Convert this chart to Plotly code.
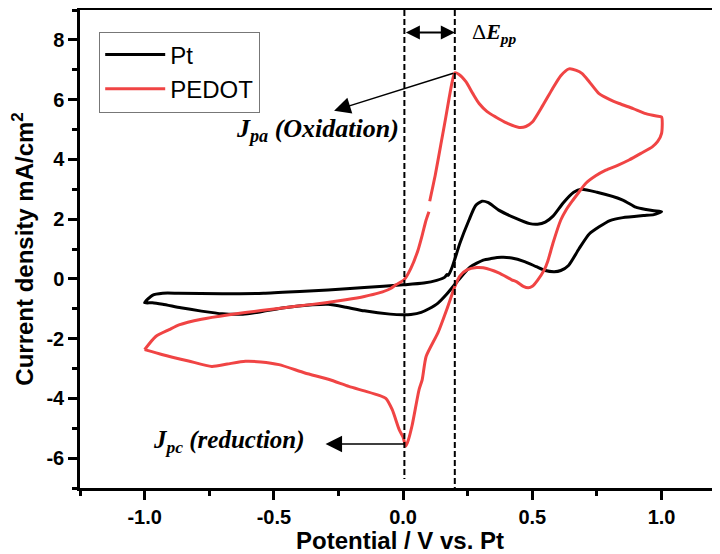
import plotly.graph_objects as go

# ---------------- data ----------------
pt_potential = [-1.0, -0.97, -0.93, -0.87, -0.70, -0.54, -0.40, -0.29, -0.15, 0.0, 0.08, 0.13, 0.16, 0.17,
                0.175, 0.19, 0.22, 0.255, 0.28, 0.305, 0.33, 0.37, 0.43, 0.49, 0.52, 0.55, 0.58, 0.62, 0.66,
                0.69, 0.75, 0.85, 0.90, 0.94, 0.97, 1.0,
                0.97, 0.93, 0.85, 0.80, 0.76, 0.72, 0.68, 0.64, 0.61, 0.585, 0.55, 0.515, 0.47, 0.42, 0.38,
                0.34, 0.31, 0.26, 0.215, 0.17, 0.135, 0.10, 0.07, 0.03, 0.0, -0.05, -0.15, -0.22, -0.29,
                -0.35, -0.46, -0.55, -0.62, -0.70, -0.78, -0.86, -0.93, -0.97, -1.0]
pt_current = [-0.80, -0.55, -0.48, -0.48, -0.50, -0.48, -0.42, -0.37, -0.29, -0.20, -0.14, -0.05, 0.05, 0.15,
              0.12, 0.40, 1.20, 1.97, 2.45, 2.60, 2.55, 2.30, 2.05, 1.85, 1.83, 1.90, 2.10, 2.55, 2.90,
              3.00, 2.90, 2.64, 2.40, 2.32, 2.28, 2.25,
              2.15, 2.12, 2.05, 1.95, 1.75, 1.50, 1.00, 0.45, 0.28, 0.24, 0.28, 0.41, 0.58, 0.70, 0.72,
              0.68, 0.63, 0.40, -0.03, -0.50, -0.81, -1.00, -1.12, -1.19, -1.20, -1.18, -1.07, -0.95, -0.85,
              -0.87, -0.97, -1.10, -1.18, -1.17, -1.08, -0.97, -0.85, -0.80, -0.80]

pedot_potential = [-1.0, -0.957, -0.905, -0.867, -0.78, -0.673, -0.55, -0.415, -0.30, -0.222, -0.15, -0.093,
                   -0.05, -0.028, 0.004, 0.03, 0.058, 0.075, 0.089, 0.10, None, 0.103, 0.125, 0.146, 0.165,
                   0.178, 0.19, 0.2, 0.215, 0.243, 0.27, 0.294, 0.325, 0.358, 0.40, 0.449, 0.475, 0.5, 0.54,
                   0.577, 0.61, 0.642, 0.67, 0.693, 0.72, 0.758, 0.80, 0.836, 0.89, 0.939, 0.98, 1.0,
                   1.0, 0.985, 0.964, 0.92, 0.874, 0.83, 0.784, 0.745, 0.707, 0.68, 0.654, 0.63, 0.61, 0.58,
                   0.56, 0.546, 0.52, 0.50, 0.484, 0.465, 0.44, 0.42, 0.37, 0.31, 0.285, 0.247, 0.22, 0.2,
                   0.17, 0.135, 0.089, 0.074, 0.062, 0.035, 0.02, 0.01, 0.0, -0.015, -0.042, -0.067, -0.093,
                   -0.15, -0.21, -0.286, -0.38, -0.48, -0.55, -0.61, -0.68, -0.74, -0.83, -0.93, -1.0]
pedot_current = [-2.37, -1.93, -1.70, -1.54, -1.35, -1.20, -1.06, -0.92, -0.80, -0.70, -0.59, -0.47,
                 -0.33, -0.20, -0.03, 0.35, 0.97, 1.50, 1.97, 2.25, None, 2.60, 3.50, 4.50, 5.40,
                 6.05, 6.60, 6.90, 6.85, 6.60, 6.20, 5.87, 5.60, 5.42, 5.22, 5.07, 5.10, 5.25, 5.80,
                 6.35, 6.80, 7.03, 6.98, 6.87, 6.60, 6.20, 6.00, 5.87, 5.70, 5.53, 5.45, 5.42,
                 4.87, 4.60, 4.42, 4.20, 3.98, 3.80, 3.64, 3.45, 3.20, 2.90, 2.60, 2.30, 1.97, 1.20,
                 0.60, 0.30, -0.05, -0.25, -0.30, -0.25, -0.10, -0.03, 0.20, 0.37, 0.38, 0.30, 0.10, -0.26,
                 -1.00, -1.80, -2.60, -3.37, -3.70, -4.90, -5.40, -5.60, -5.30, -5.05, -4.38, -4.00, -3.90,
                 -3.75, -3.60, -3.37, -3.15, -2.87, -2.78, -2.76, -2.85, -2.93, -2.75, -2.54, -2.37]

x_tickvals = [-1.0, -0.5, 0.0, 0.5, 1.0]
x_ticktext = ["-1.0", "-0.5", "0.0", "0.5", "1.0"]
y_tickvals = [-6, -4, -2, 0, 2, 4, 6, 8]
y_ticktext = ["-6", "-4", "-2", "0", "2", "4", "6", "8"]

# ---------------- figure ----------------
SANS = "Liberation Sans, Arial, sans-serif"
SERIF = "Liberation Serif, Times New Roman, serif"

fig = go.Figure()
fig.add_trace(go.Scatter(x=pt_potential, y=pt_current, mode="lines", name="Pt",
                         line=dict(color="black", width=3, shape="spline", smoothing=0.6)))
fig.add_trace(go.Scatter(x=pedot_potential, y=pedot_current, mode="lines", name="PEDOT",
                         line=dict(color="#F04444", width=3, shape="spline", smoothing=0.6),
                         connectgaps=False))

# dashed guide lines
fig.add_shape(type="line", xref="x", yref="y", x0=0.005, x1=0.005, y0=9, y1=-6.7,
              line=dict(color="black", width=2, dash="6px,3px"))
fig.add_shape(type="line", xref="x", yref="y", x0=0.2, x1=0.2, y0=9, y1=-7,
              line=dict(color="black", width=2, dash="6px,3px"))

# delta E arrow
fig.add_annotation(x=0.2, y=8.25, ax=0.005, ay=8.25, xref="x", yref="y", axref="x", ayref="y",
                   text="", showarrow=True, arrowhead=2, startarrowhead=2, arrowside="end+start",
                   arrowsize=1.4, startarrowsize=1.4, arrowwidth=2, arrowcolor="black")
fig.add_annotation(x=0.352, y=8.23, xref="x", yref="y", showarrow=False,
                   text="Δ<b><i>E<sub>pp</sub></i></b>",
                   font=dict(family=SERIF, size=22, color="black"))

# Jpa arrow and label
fig.add_annotation(x=-0.267, y=5.63, ax=0.2, ay=6.9, xref="x", yref="y", axref="x", ayref="y",
                   text="", showarrow=True, arrowhead=2, arrowsize=2.2, arrowwidth=1.5, arrowcolor="black")
fig.add_annotation(x=-0.33, y=4.99, xref="x", yref="y", showarrow=False,
                   text="<b><i>J<sub>pa</sub> (Oxidation)</i></b>",
                   font=dict(family=SERIF, size=26, color="black"))

# Jpc arrow and label
fig.add_annotation(x=-0.30, y=-5.53, ax=0.01, ay=-5.53, xref="x", yref="y", axref="x", ayref="y",
                   text="", showarrow=True, arrowhead=2, arrowsize=2.2, arrowwidth=1.5, arrowcolor="black")
fig.add_annotation(x=-0.673, y=-5.45, xref="x", yref="y", showarrow=False,
                   text="<b><i>J<sub>pc</sub> (reduction)</i></b>",
                   font=dict(family=SERIF, size=25, color="black"))

# The page body adds an 8px offset, so the figure is sized to fill the rest of the 720x554 window.
fig.update_layout(
    width=712, height=546,
    margin=dict(l=72, r=0, t=2, b=66),
    paper_bgcolor="white", plot_bgcolor="white",
    font=dict(family=SANS, color="black"),
    showlegend=True,
    legend=dict(x=0.03, y=0.955, xanchor="left", yanchor="top",
                bordercolor="#777777", borderwidth=1, bgcolor="white",
                font=dict(family=SANS, size=24, color="black"),
                tracegroupgap=0, itemwidth=60),
    xaxis=dict(range=[-1.25, 1.226], showgrid=False, zeroline=False, automargin=False,
               showline=True, linecolor="black", linewidth=2.5, mirror=True,
               ticks="outside", ticklen=9, tickwidth=2.5, tickcolor="black",
               tickvals=x_tickvals, ticktext=x_ticktext,
               tickfont=dict(family=SANS, size=20, color="black", weight="bold"),
               minor=dict(ticks="outside", ticklen=5, tickwidth=2.5, tickcolor="black", dtick=0.25, tick0=0),
               title=dict(text="Potential / V vs. Pt",
                          font=dict(family=SANS, size=24, color="black", weight="bold"),
                          standoff=2)),
    yaxis=dict(range=[-7, 9], showgrid=False, zeroline=False, automargin=False,
               showline=True, linecolor="black", linewidth=2.5, mirror=False,
               ticks="outside", ticklen=9, tickwidth=2.5, tickcolor="black",
               tickvals=y_tickvals, ticktext=y_ticktext,
               tickfont=dict(family=SANS, size=20, color="black", weight="bold"),
               minor=dict(ticks="outside", ticklen=5, tickwidth=2.5, tickcolor="black", dtick=1, tick0=0),
               title=dict(text="Current density mA/cm<sup>2</sup>",
                          font=dict(family=SANS, size=24, color="black", weight="bold"), standoff=12)),
)

fig.write_html("out.html")
